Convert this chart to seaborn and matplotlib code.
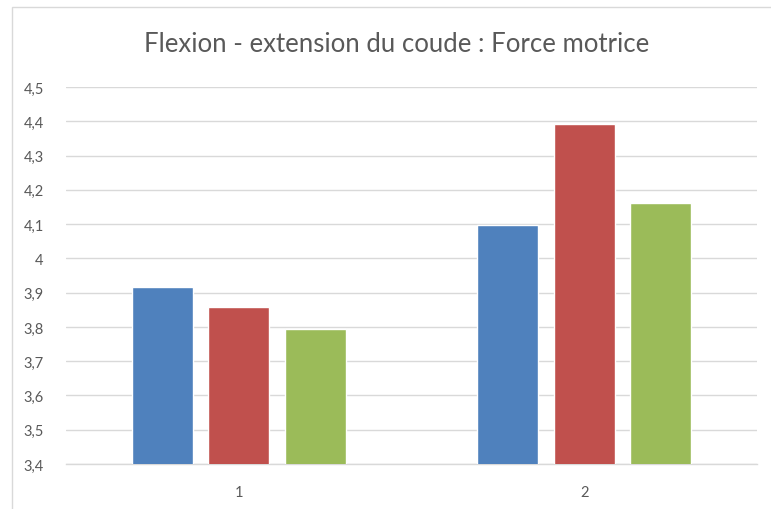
import matplotlib
matplotlib.use("Agg")
import matplotlib.pyplot as plt
import seaborn as sns
import pandas as pd
from matplotlib.patches import Rectangle
from matplotlib.ticker import FuncFormatter

categories = ["1", "2"]
series_names = ["Série 1", "Série 2", "Série 3"]
serie1 = [3.916, 4.096]
serie2 = [3.859, 4.391]
serie3 = [3.793, 4.162]
colors = ["#4F81BD", "#C0504D", "#9BBB59"]
title = "Flexion - extension du coude : Force motrice"

rows = []
for name, vals in zip(series_names, [serie1, serie2, serie3]):
    for c, v in zip(categories, vals):
        rows.append({"cat": c, "serie": name, "val": v})
df = pd.DataFrame(rows)

sns.set_style("white")
plt.rcParams["font.family"] = ["Lato", "DejaVu Sans"]

fig = plt.figure(figsize=(7.71, 5.10), dpi=100)
ax = fig.add_axes([66 / 771, 1 - 465 / 510, (757 - 66) / 771, (465 - 88) / 510])

sns.barplot(data=df, x="cat", y="val", hue="serie", palette=colors,
            width=0.665, gap=0.2, legend=False, ax=ax, errorbar=None,
            saturation=1, zorder=3)

ax.set_ylim(3.4, 4.5)
ax.set_xlim(-0.5, 1.5)
yt = [3.4 + 0.1 * i for i in range(12)]
ax.set_yticks(yt)
ax.yaxis.set_major_formatter(FuncFormatter(lambda v, p: ("%g" % round(v, 1)).replace(".", ",")))
ax.grid(axis="y", color="#d9d9d9", linewidth=1, zorder=0)
ax.set_axisbelow(True)
for s in ["left", "right", "top"]:
    ax.spines[s].set_visible(False)
ax.spines["bottom"].set_color("#d9d9d9")
ax.spines["bottom"].set_linewidth(1)
ax.tick_params(axis="both", length=0, labelsize=10.5, labelcolor="#595959")
ax.tick_params(axis="y", pad=16)
ax.tick_params(axis="x", pad=15)
ax.set_xlabel("")
ax.set_ylabel("")

fig.text(397 / 771, 1 - 45 / 510, title, ha="center", va="center",
         fontsize=18.5, color="#595959")

fig.patches.append(Rectangle((12 / 771, -0.05), 1.2, 1 - 8 / 510 + 0.05,
                             transform=fig.transFigure, fill=False,
                             edgecolor="#d9d9d9", linewidth=1))

fig.savefig("out.png", dpi=100)
